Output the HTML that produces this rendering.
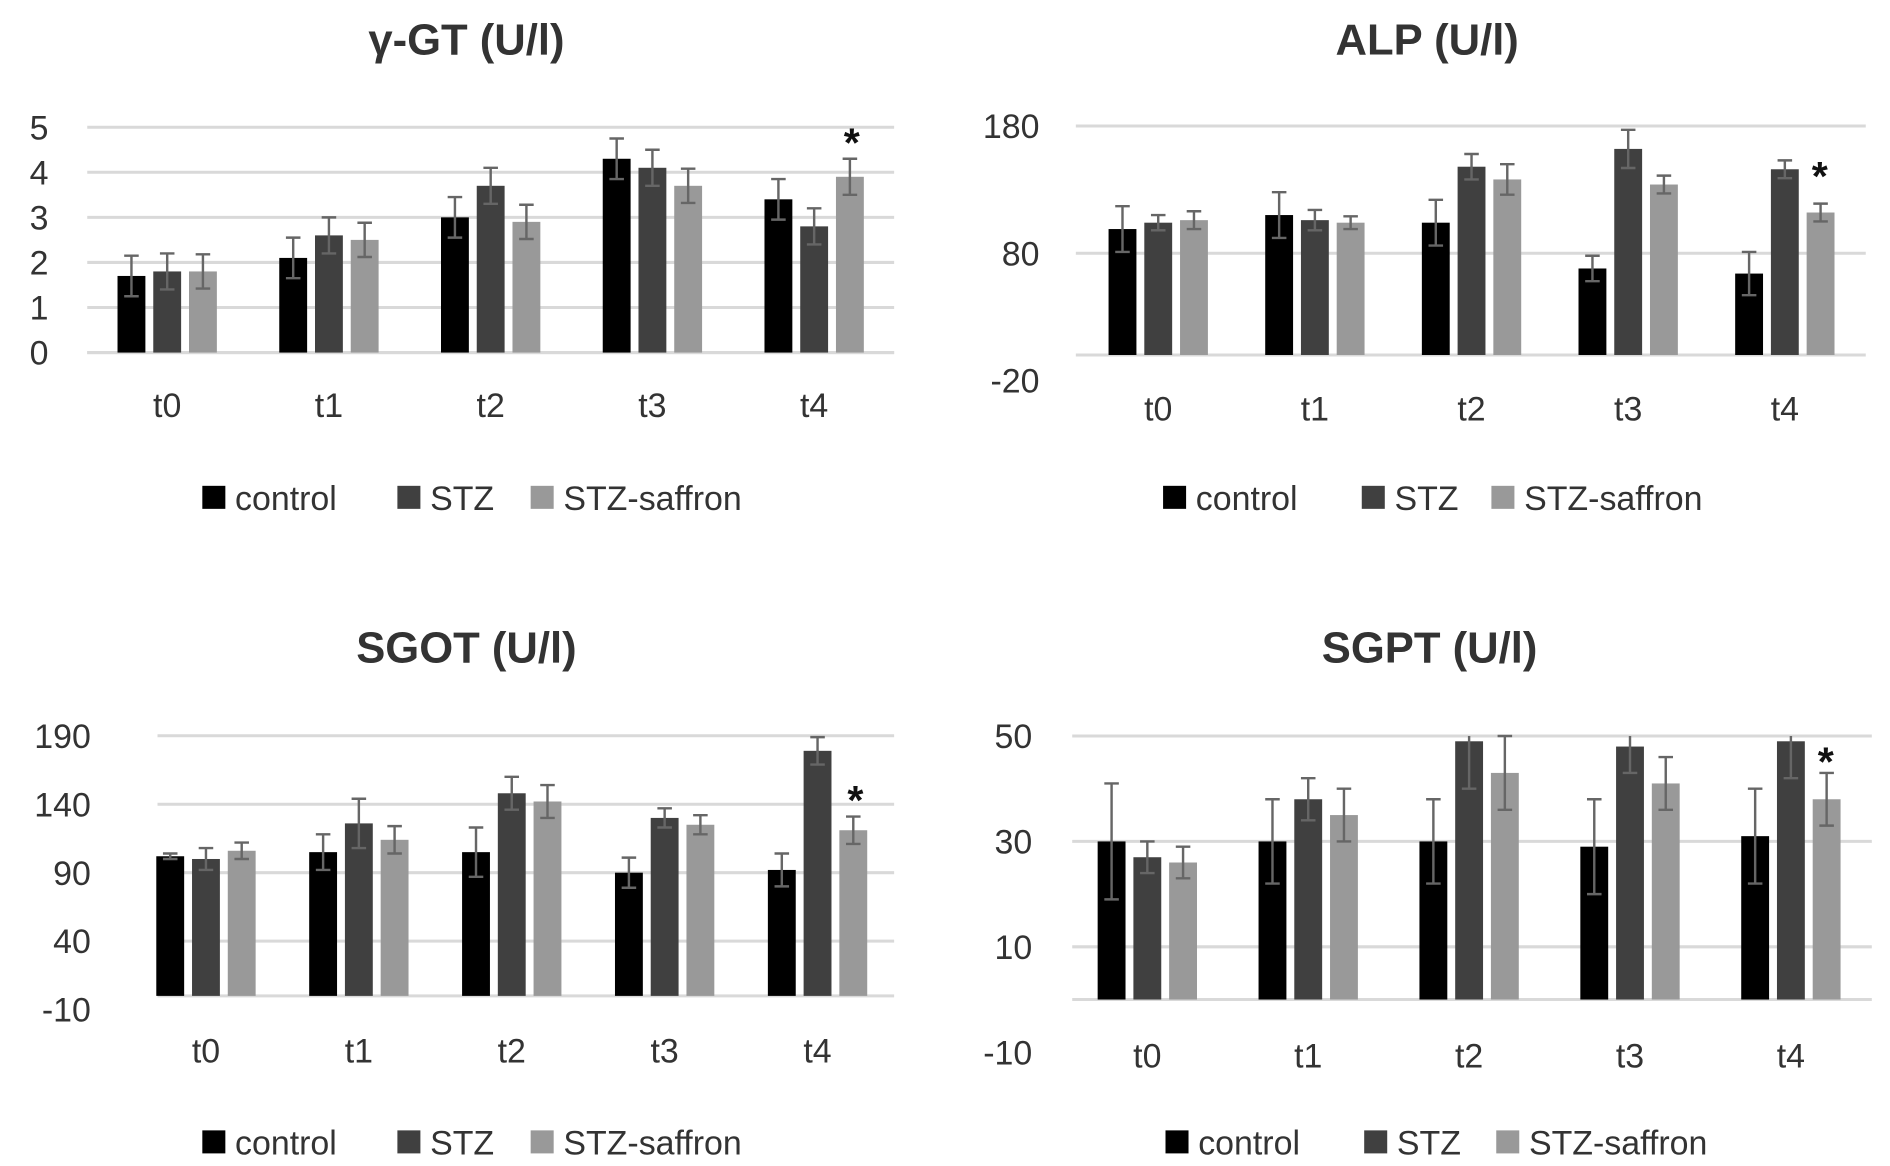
<!DOCTYPE html>
<html><head><meta charset="utf-8"><style>
html,body{margin:0;padding:0;background:#fff;}
svg{display:block;font-family:"Liberation Sans","DejaVu Sans",sans-serif;}
</style></head><body>
<svg id="fig" width="1890" height="1166" viewBox="0 0 1560 962.4" xmlns="http://www.w3.org/2000/svg"></svg>
<script>
const categories = ["t0","t1","t2","t3","t4"];
const seriesNames = ["control","STZ","STZ-saffron"];
// gamma-GT
const ggtControl = [1.7,2.1,3.0,4.3,3.4];
const ggtControlErr = [0.45,0.45,0.45,0.45,0.45];
const ggtStz = [1.8,2.6,3.7,4.1,2.8];
const ggtStzErr = [0.4,0.4,0.4,0.4,0.4];
const ggtSaf = [1.8,2.5,2.9,3.7,3.9];
const ggtSafErr = [0.38,0.38,0.38,0.38,0.4];
const ggtTicks = [0,1,2,3,4,5];
// ALP
const alpControl = [99,110,104,68,64];
const alpControlErr = [18,18,18,10,17];
const alpStz = [104,106,148,162,146];
const alpStzErr = [6,8,10,15,7];
const alpSaf = [106,104,138,134,112];
const alpSafErr = [7,5,12,7,7];
const alpTicks = [-20,80,180];
// SGOT
const sgotControl = [102,105,105,90,92];
const sgotControlErr = [2,13,18,11,12];
const sgotStz = [100,126,148,130,179];
const sgotStzErr = [8,18,12,7,10];
const sgotSaf = [106,114,142,125,121];
const sgotSafErr = [6,10,12,7,10];
const sgotTicks = [-10,40,90,140,190];
// SGPT
const sgptControl = [30,30,30,29,31];
const sgptControlErr = [11,8,8,9,9];
const sgptStz = [27,38,49,48,49];
const sgptStzErr = [3,4,9,5,7];
const sgptSaf = [26,35,43,41,38];
const sgptSafErr = [3,5,7,5,5];
const sgptTicks = [-10,10,30,50];

const NS="http://www.w3.org/2000/svg";
const svg=document.getElementById('fig');
const colors=["#000000","#404040","#999999"];
function mk(tag,attrs,parent){const e=document.createElementNS(NS,tag);for(const k in attrs)e.setAttribute(k,attrs[k]);(parent||svg).appendChild(e);return e;}

function chart(cfg){
  const g=mk('g',{});
  
  
  const y=v=>cfg.y0-(v-cfg.v0)*cfg.k;
  const t=mk('text',{x:cfg.titleX,y:cfg.titleY,'text-anchor':'middle','font-size':36,'font-weight':'bold',fill:'#333'},g);
  t.textContent=cfg.title;
  
  
  cfg.ticks.forEach(tv=>{
    if(cfg.grid.includes(tv)){
      const l=mk('line',{x1:cfg.x1,x2:cfg.x2,y1:y(tv),y2:y(tv),stroke:'#d9d9d9','stroke-width':2.5},g);
      
      
    }
    const tl=mk('text',{x:cfg.labX,y:y(tv)+10,'text-anchor':'end','font-size':28,fill:'#333'},g);
    tl.textContent=tv;
    
    
  });
  const base=mk('line',{x1:cfg.x1,x2:cfg.x2,y1:y(0),y2:y(0),stroke:'#d9d9d9','stroke-width':2.5},g);
  
  
  const topY=y(cfg.max);
  const bw=23,pitch=29.5;
  categories.forEach((c,i)=>{
    const cx=cfg.cx0+i*cfg.step;
    cfg.series.forEach((s,j)=>{
      const bx=cx+(j-1)*pitch-bw/2;
      const v=s[i],top=y(v);
      const r=mk('rect',{x:bx,y:top,width:bw,height:y(0)-top,fill:colors[j]},g);
      
      
      const e=cfg.errs[j][i],ex=bx+bw/2;
      const hi=y(v+e),lo=y(v-e);
      let d;
      if(hi<topY){d=`M${ex} ${topY}V${lo}M${ex-6} ${lo}H${ex+6}`;}
      else{d=`M${ex} ${hi}V${lo}M${ex-6} ${hi}H${ex+6}M${ex-6} ${lo}H${ex+6}`;}
      const eg=mk('path',{d:d,stroke:'#666','stroke-width':2,fill:'none'},g);
      
      
    });
    const xl=mk('text',{x:cx,y:cfg.catY,'text-anchor':'middle','font-size':28,fill:'#333'},g);
    xl.textContent=c;
    
    
  });
  const st=mk('text',{x:cfg.starX,y:cfg.starY,'text-anchor':'middle','font-size':34,'font-weight':'bold',fill:'#111'},g);
  st.textContent='*';
  
  
  seriesNames.forEach((n,j)=>{
    const lg=mk('g',{},g);
    
    
    mk('rect',{x:cfg.legSq[j],y:cfg.legY-20,width:19,height:19,fill:colors[j]},lg);
    const lt=mk('text',{x:cfg.legSq[j]+27,y:cfg.legY,'font-size':28,fill:'#333'},lg);
    lt.textContent=n;
  });
}

chart({id:'ggt',title:'γ-GT (U/l)',titleX:385,titleY:45,v0:0,y0:291,k:37.2,max:5,ticks:ggtTicks,grid:[0,1,2,3,4,5],
  x1:72,x2:738,labX:40,cx0:138,step:133.5,catY:344,series:[ggtControl,ggtStz,ggtSaf],errs:[ggtControlErr,ggtStzErr,ggtSafErr],
  starX:703,starY:129,legSq:[167,328,438],legY:421});
chart({id:'alp',title:'ALP (U/l)',titleX:1178,titleY:45,v0:0,y0:293,k:1.05,max:180,ticks:alpTicks,grid:[80,180],
  x1:888,x2:1540,labX:858,cx0:956,step:129.3,catY:347,series:[alpControl,alpStz,alpSaf],errs:[alpControlErr,alpStzErr,alpSafErr],
  starX:1502,starY:157,legSq:[960,1124,1231],legY:421});
chart({id:'sgot',title:'SGOT (U/l)',titleX:385,titleY:547,v0:0,y0:822,k:1.13,max:190,ticks:sgotTicks,grid:[40,90,140,190],
  x1:130,x2:738,labX:75,cx0:170,step:126.2,catY:877,series:[sgotControl,sgotStz,sgotSaf],errs:[sgotControlErr,sgotStzErr,sgotSafErr],
  starX:706,starY:672,legSq:[167,328,438],legY:953});
chart({id:'sgpt',title:'SGPT (U/l)',titleX:1180,titleY:547,v0:0,y0:825,k:4.35,max:50,ticks:sgptTicks,grid:[10,30,50],
  x1:885,x2:1545,labX:852,cx0:947,step:132.8,catY:881,series:[sgptControl,sgptStz,sgptSaf],errs:[sgptControlErr,sgptStzErr,sgptSafErr],
  starX:1507,starY:640,legSq:[962,1126,1235],legY:953});
</script>
</body></html>
